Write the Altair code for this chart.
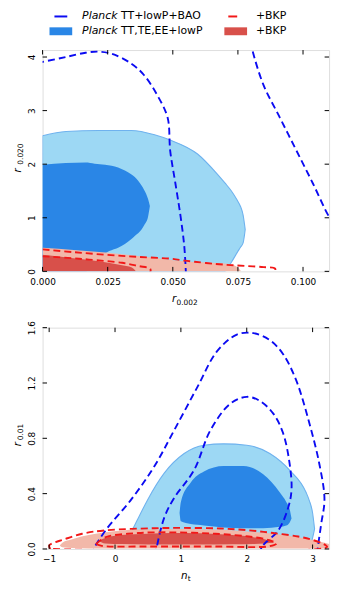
import altair as alt
import pandas as pd

W, H = 290, 224

# ---------------- colours ----------------
BLUE_DASH = "#0B0BF2"
RED_DASH = "#F21818"
LIGHT_BLUE = "#9DD8F4"
LIGHT_BLUE_EDGE = "#6FB2EE"
DARK_BLUE = "#2A86E6"
LIGHT_RED = "#F2B8A9"
DARK_RED = "#D8504A"

# ---------------- legend ----------------
legend_italic = ["Planck", "Planck"]
legend_rest = ["TT+lowP+BAO", "TT,TE,EE+lowP"]
legend_bkp = ["+BKP", "+BKP"]

# ---------------- top panel: r_0.002 vs r_0.020 ----------------
top_xdom = [0.0, 0.11]
top_ydom = [0.0, 4.13]
top_xticks = [0.0, 0.025, 0.05, 0.075, 0.1]
top_yticks = [0, 1, 2, 3, 4]

# light blue (95%) Planck TT,TE,EE+lowP
t_lb_x = [0.0, 0.009, 0.0215, 0.034, 0.043, 0.049, 0.0595, 0.067, 0.070, 0.0725, 0.0747, 0.076, 0.077, 0.0778]
t_lb_hi = [2.53, 2.61, 2.63, 2.63, 2.55, 2.45, 2.19, 1.82, 1.65, 1.50, 1.33, 1.21, 1.05, 0.78]
t_lb_lo = [0.0, 0.0, 0.0, 0.0, 0.0, 0.0, 0.0, 0.0, 0.0, 0.17, 0.35, 0.45, 0.53, 0.78]
# dark blue (68%)
t_db_x = [0.0, 0.0089, 0.0165, 0.02, 0.024, 0.029, 0.0316, 0.034, 0.0354, 0.038, 0.039, 0.0405, 0.0412]
t_db_hi = [1.99, 2.02, 2.03, 2.01, 1.99, 1.94, 1.88, 1.81, 1.76, 1.60, 1.52, 1.35, 1.22]
t_db_lo = [0.0, 0.0, 0.0, 0.1, 0.33, 0.44, 0.51, 0.60, 0.66, 0.78, 0.86, 1.02, 1.22]
# light red (95%) +BKP
t_lr_x = [0.0, 0.012, 0.0242, 0.04, 0.0545, 0.063, 0.0709, 0.0747, 0.0762]
t_lr_hi = [0.44, 0.40, 0.35, 0.27, 0.19, 0.165, 0.14, 0.08, 0.0]
t_lr_lo = [0.0, 0.0, 0.0, 0.0, 0.0, 0.0, 0.0, 0.0, 0.0]
# dark red (68%)
t_dr_x = [0.0, 0.011, 0.0216, 0.03, 0.0343, 0.0358]
t_dr_hi = [0.31, 0.25, 0.19, 0.12, 0.07, 0.0]
t_dr_lo = [0.0, 0.0, 0.0, 0.0, 0.0, 0.0]
# blue dashed contours (Planck TT+lowP+BAO)
t_bd1_x = [-0.002, 0.0, 0.0089, 0.0165, 0.0215, 0.0266, 0.034, 0.039, 0.044, 0.048, 0.049, 0.051, 0.053, 0.0544, 0.055, 0.0551]
t_bd1_y = [3.89, 3.91, 4.0, 4.08, 4.10, 4.06, 3.88, 3.66, 3.29, 2.87, 2.25, 1.64, 1.02, 0.47, 0.0, -0.1]
t_bd2_x = [0.0798, 0.0806, 0.0848, 0.0911, 0.0975, 0.1038, 0.110, 0.112]
t_bd2_y = [4.3, 4.12, 3.48, 2.87, 2.25, 1.64, 1.02, 0.9]
# red dashed contours (+BKP)
t_rd1_x = [0.0, 0.0115, 0.0242, 0.0368, 0.0494, 0.0545, 0.0583, 0.0659, 0.0722, 0.0785, 0.0849, 0.0893, 0.089]
t_rd1_y = [0.41, 0.36, 0.31, 0.27, 0.235, 0.20, 0.18, 0.14, 0.117, 0.10, 0.08, 0.05, -0.05]
t_rd2_x = [0.0, 0.0039, 0.0115, 0.0178, 0.0305, 0.0368, 0.0412, 0.0415, 0.041]
t_rd2_y = [0.28, 0.27, 0.245, 0.22, 0.16, 0.10, 0.055, 0.02, -0.05]

# ---------------- bottom panel: n_t vs r_0.01 ----------------
bot_xdom = [-1.1, 3.25]
bot_ydom = [0.0, 1.6]
bot_xticks = [-1, 0, 1, 2, 3]
bot_yticks = [0.0, 0.4, 0.8, 1.2, 1.6]

b_lb_x = [0.18, 0.25, 0.35, 0.5, 0.75, 1.05, 1.35, 1.65, 2.0, 2.35, 2.65, 2.9, 2.95, 3.0, 3.03]
b_lb_hi = [0.02, 0.12, 0.22, 0.36, 0.55, 0.69, 0.75, 0.76, 0.75, 0.69, 0.57, 0.41, 0.35, 0.26, 0.145]
b_lb_lo = [0.02, 0.01, 0.01, 0.01, 0.01, 0.01, 0.01, 0.01, 0.01, 0.01, 0.01, 0.01, 0.01, 0.08, 0.145]
b_db_x = [0.98, 1.0, 1.15, 1.35, 1.65, 1.95, 2.25, 2.5, 2.6, 2.65, 2.68]
b_db_hi = [0.26, 0.34, 0.48, 0.56, 0.60, 0.60, 0.54, 0.41, 0.34, 0.29, 0.22]
b_db_lo = [0.26, 0.20, 0.18, 0.17, 0.155, 0.15, 0.15, 0.16, 0.17, 0.19, 0.22]
b_lr_x = [-0.84, -0.8, -0.65, -0.4, -0.14, 0.35, 1.1, 1.6, 2.03, 2.4, 2.78, 3.0, 3.13, 3.3]
b_lr_hi = [0.025, 0.045, 0.07, 0.10, 0.12, 0.14, 0.145, 0.14, 0.125, 0.11, 0.085, 0.065, 0.05, 0.03]
b_lr_lo = [0.025, 0.012, 0.006, 0.004, 0.003, 0.003, 0.003, 0.003, 0.003, 0.003, 0.003, 0.003, 0.003, 0.003]
b_dr_x = [-0.25, -0.15, 0.1, 0.5, 0.85, 1.3, 1.78, 2.1, 2.27, 2.42]
b_dr_hi = [0.06, 0.08, 0.10, 0.11, 0.115, 0.113, 0.10, 0.085, 0.07, 0.045]
b_dr_lo = [0.06, 0.04, 0.035, 0.033, 0.032, 0.032, 0.034, 0.036, 0.04, 0.045]
b_bd1_x = [-0.34, -0.32, -0.15, 0.25, 0.6, 0.9, 1.25, 1.55, 1.85, 2.1, 2.35, 2.55, 2.75, 2.95, 3.1, 3.18, 3.13, 3.08, 3.07]
b_bd1_y = [-0.05, 0.0, 0.13, 0.36, 0.6, 0.86, 1.17, 1.43, 1.55, 1.56, 1.51, 1.41, 1.22, 0.91, 0.62, 0.36, 0.18, 0.01, -0.05]
b_bd2_x = [0.62, 0.63, 0.75, 0.9, 1.2, 1.45, 1.75, 2.0, 2.2, 2.4, 2.55, 2.65, 2.68, 2.63, 2.48, 2.23, 2.2]
b_bd2_y = [-0.05, 0.0, 0.23, 0.37, 0.57, 0.86, 1.05, 1.10, 1.07, 0.98, 0.84, 0.62, 0.43, 0.30, 0.135, 0.015, -0.05]
b_rd1_x = [-0.98, -1.0, -0.9, -0.8, -0.5, -0.14, 0.6, 1.03, 1.6, 2.03, 2.4, 2.78, 3.0, 3.17, 3.22, 3.1, 2.0, 0.0, -0.98]
b_rd1_y = [0.0, 0.025, 0.05, 0.065, 0.11, 0.135, 0.15, 0.152, 0.148, 0.135, 0.115, 0.09, 0.065, 0.035, 0.015, 0.0, -0.01, -0.01, 0.0]
b_rd2_x = [-0.29, -0.14, 0.35, 0.9, 1.52, 2.03, 2.33, 2.45, 2.35, 1.5, 0.5, -0.2, -0.29]
b_rd2_y = [0.035, 0.085, 0.115, 0.12, 0.11, 0.09, 0.065, 0.04, 0.02, 0.018, 0.018, 0.022, 0.035]

ONE = pd.DataFrame({"k": [0]})
DASH = [7, 4]
TICK = 4.5
FONT = "DejaVu Sans"


def make_axes(xt, yt, xfmt, yfmt):
    ax_x = alt.Axis(values=xt, format=xfmt, ticks=False, domain=False, grid=False, title=None,
                    labelFontSize=9, labelFont=FONT, labelColor="black", labelPadding=6,
                    labelFlush=False)
    ax_y = alt.Axis(values=yt, format=yfmt, ticks=False, domain=False, grid=False, title=None,
                    labelFontSize=9, labelFont=FONT, labelColor="black", labelPadding=6,
                    labelAngle=270, labelAlign="center", labelBaseline="bottom", labelFlush=False)
    return ax_x, ax_y


class Panel:
    def __init__(self, xdom, ydom, xt, yt, xfmt, yfmt):
        self.xs = alt.Scale(domain=xdom, nice=False, zero=False)
        self.ys = alt.Scale(domain=ydom, nice=False, zero=False)
        self.xt, self.yt = xt, yt
        self.ax, self.ay = make_axes(xt, yt, xfmt, yfmt)

    def X(self, f):
        return alt.X(f, scale=self.xs, axis=self.ax)

    def Y(self, f):
        return alt.Y(f, scale=self.ys, axis=self.ay)

    def area(self, xs, lo, hi, color, stroke=None):
        df = pd.DataFrame({"x": xs, "lo": lo, "hi": hi})
        kw = dict(color=color, opacity=1, clip=True, interpolate="monotone")
        if stroke:
            kw.update(stroke=stroke, strokeWidth=1.1)
        return alt.Chart(df).mark_area(**kw).encode(x=self.X("x:Q"), y=self.Y("hi:Q"), y2="lo:Q")

    def line(self, xs, ys, color):
        df = pd.DataFrame({"x": xs, "y": ys, "o": list(range(len(xs)))})
        return alt.Chart(df).mark_line(
            color=color, strokeWidth=1.9, strokeDash=DASH, clip=True, interpolate="catmull-rom"
        ).encode(x=self.X("x:Q"), y=self.Y("y:Q"), order="o:Q")

    def ticks(self):
        dx = pd.DataFrame({"x": self.xt})
        dy = pd.DataFrame({"y": self.yt})
        bx = alt.Chart(dx).mark_rule(color="black", strokeWidth=1)
        by = alt.Chart(dy).mark_rule(color="black", strokeWidth=1)
        return [
            bx.encode(x=self.X("x:Q"), y=alt.value(H), y2=alt.value(H - TICK)),
            bx.encode(x=self.X("x:Q"), y=alt.value(0), y2=alt.value(TICK)),
            by.encode(y=self.Y("y:Q"), x=alt.value(0), x2=alt.value(TICK)),
            by.encode(y=self.Y("y:Q"), x=alt.value(W), x2=alt.value(W - TICK)),
        ]


def text_layer(txt, x, y, size, italic=False, angle=0, baseline="alphabetic"):
    kw = dict(fontSize=size, font=FONT, color="black", align="left", baseline=baseline)
    if italic:
        kw["fontStyle"] = "italic"
    if angle:
        kw["angle"] = angle
    return alt.Chart(pd.DataFrame({"t": [txt]})).mark_text(**kw).encode(
        text="t:N", x=alt.value(x), y=alt.value(y)
    )


# ---------------- top panel ----------------
P = Panel(top_xdom, top_ydom, top_xticks, top_yticks, ".3f", "d")
top_layers = [
    P.area(t_lb_x, t_lb_lo, t_lb_hi, LIGHT_BLUE, stroke=LIGHT_BLUE_EDGE),
    P.area(t_db_x, t_db_lo, t_db_hi, DARK_BLUE),
    P.area(t_lr_x, t_lr_lo, t_lr_hi, LIGHT_RED),
    P.area(t_dr_x, t_dr_lo, t_dr_hi, DARK_RED),
    P.line(t_bd1_x, t_bd1_y, BLUE_DASH),
    P.line(t_bd2_x, t_bd2_y, BLUE_DASH),
    P.line(t_rd1_x, t_rd1_y, RED_DASH),
    P.line(t_rd2_x, t_rd2_y, RED_DASH),
] + P.ticks() + [
    text_layer("r", 131, 255, 10.5, italic=True),
    text_layer("0.002", 135.5, 258, 7.5),
    text_layer("r", -22, 124, 10.5, italic=True, angle=270),
    text_layer("0.020", -19.5, 116, 7.5, angle=270),
    # legend
    alt.Chart(ONE).mark_rule(color=BLUE_DASH, strokeWidth=2).encode(
        x=alt.value(12), x2=alt.value(25), y=alt.value(-34)),
    alt.Chart(ONE).mark_rect(color=DARK_BLUE).encode(
        x=alt.value(7), x2=alt.value(30), y=alt.value(-23), y2=alt.value(-15)),
    alt.Chart(ONE).mark_rule(color=RED_DASH, strokeWidth=2).encode(
        x=alt.value(188), x2=alt.value(197), y=alt.value(-34)),
    alt.Chart(ONE).mark_rect(color=DARK_RED).encode(
        x=alt.value(184), x2=alt.value(207), y=alt.value(-23), y2=alt.value(-15)),
    text_layer(legend_italic[0], 40, -34, 11, italic=True, baseline="middle"),
    text_layer(legend_rest[0], 79.5, -34, 11, baseline="middle"),
    text_layer(legend_italic[1], 40, -19, 11, italic=True, baseline="middle"),
    text_layer(legend_rest[1], 79.5, -19, 11, baseline="middle"),
    text_layer(legend_bkp[0], 216, -34, 11, baseline="middle"),
    text_layer(legend_bkp[1], 216, -19, 11, baseline="middle"),
]
top = alt.layer(*top_layers).properties(width=W, height=H)

# ---------------- bottom panel ----------------
Q = Panel(bot_xdom, bot_ydom, bot_xticks, bot_yticks, "d", ".1f")
bot_layers = [
    Q.area(b_lb_x, b_lb_lo, b_lb_hi, LIGHT_BLUE, stroke=LIGHT_BLUE_EDGE),
    Q.area(b_db_x, b_db_lo, b_db_hi, DARK_BLUE),
    Q.area(b_lr_x, b_lr_lo, b_lr_hi, LIGHT_RED),
    Q.area(b_dr_x, b_dr_lo, b_dr_hi, DARK_RED),
    Q.line(b_bd1_x, b_bd1_y, BLUE_DASH),
    Q.line(b_bd2_x, b_bd2_y, BLUE_DASH),
    Q.line(b_rd1_x, b_rd1_y, RED_DASH),
    Q.line(b_rd2_x, b_rd2_y, RED_DASH),
] + Q.ticks() + [
    text_layer("n", 140, 254, 10.5, italic=True),
    text_layer("t", 147, 256.5, 7.5),
    text_layer("r", -22, 120, 10.5, italic=True, angle=270),
    text_layer("0.01", -19.5, 114, 7.5, angle=270),
]
bottom = alt.layer(*bot_layers).properties(width=W, height=H)

chart = alt.vconcat(top, bottom, spacing=13).properties(
    padding={"left": 4, "top": -2, "right": 5, "bottom": 5}
).configure_view(stroke="black", strokeWidth=1.4).configure(background="white")

chart.save("out.html", embed_options={"renderer": "svg", "actions": False})
